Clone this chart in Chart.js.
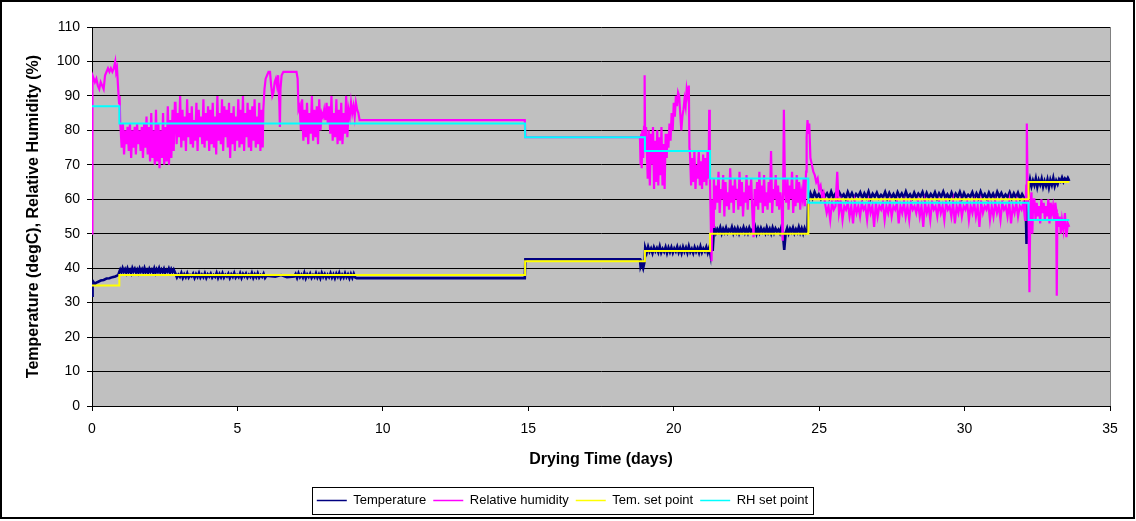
<!DOCTYPE html>
<html>
<head>
<meta charset="utf-8">
<title>Drying conditions</title>
<script src="https://cdn.jsdelivr.net/npm/chart.js@4.4.1/dist/chart.umd.min.js"></script>
<style>
  html, body { margin: 0; padding: 0; background: #fff; }
  #wrap { width: 1136px; height: 521px; position: relative; }
</style>
</head>
<body>
<div id="wrap"><canvas id="dryingChart" width="1136" height="521"></canvas></div>
<script>
// Axis ranges / ticks
const xMin = 0, xMax = 35, xStep = 5;
const yMin = 0, yMax = 110, yStep = 10;

// Set points: day the value starts, value
const setDays = [0, 0.94, 14.89, 19.01, 21.25, 24.63, 32.2, 33.6];
const temSetValues = [35, 38, 42, 45, 50, 60, 65, 65];
const rhSetValues = [87, 82, 78, 74, 66, 59, 54, 54];

// Temperature readings (day, degC) and dense logger bands (values between two days)
const tempStart = [[0, 32], [0.02, 35], [0.05, 36], [0.1, 35.4], [0.15, 35.8], [0.2, 36], [0.3, 36.4], [0.4, 36.6],
  [0.5, 37], [0.6, 37.1], [0.7, 37.4], [0.8, 37.6], [0.9, 38], [0.95, 39.2]];
const tempBand1 = [39.6,38.8,40,39,39.7,38.7,39.9,38.9,39.5,38.6,40,39.1,39.8,38.8,39.6,38.7,39.9,39,39.7,38.8,
  40,38.9,39.5,38.7,39.8,39,39.6,38.8,39.9,38.7,39.7,39,40,38.8,39.6,38.9,39.8,38.7,39.5,39,39.9,38.8,39.7,38.9,39.6,38.8];
const tempBand2 = [38.4,37.3,38.1,37.5,38.6,37.2,38.2,37.4,38.5,37.3,38,37.6,38.4,37.2,38.3,37.5,38.6,37.3,38.1,37.4,
  38.5,37.2,38.2,37.6,38.4,37.3,38,37.5,38.6,37.2,38.3,37.4,38.5,37.3,38.1,37.6,38.4,37.2,38.2,37.5,38.6,37.3,38,37.4,
  38.5,37.2,38.3,37.6,38.4,37.3,38.1,37.5,38.6,37.2,38.2,37.4,38.5,37.3,38,37.5,38.4,37.2];
const tempMid1 = [[6.0, 37.8], [6.3, 37.5], [6.5, 38], [6.7, 37.4], [6.95, 37.6]];
const tempBand3 = [38.3,37.2,38.5,37.4,38.1,37.3,38.6,37.1,38.2,37.5,38.4,37.2,38,37.4,38.5,37.3,38.2,37.1,38.6,37.5,
  38.3,37.2,38.1,37.4,38.5,37.3,38.2,37.1,38.4,37.5,38.6,37.2,38.1,37.3,38.5,37.4,38.2,37.1,38.3,37.2,38.4,37.3];
const tempMid2 = [[9.1, 37.1], [14.88, 37.1], [14.9, 42.6], [18.84, 42.6], [18.86, 40.5], [18.9, 41.5], [18.95, 40], [19.0, 42]];
const tempBand4 = [45.9,44.5,46.2,44.8,45.7,44.4,46,44.9,45.8,44.6,46.3,44.5,45.6,44.8,46.1,44.4,45.9,44.7,46,44.5,
  45.7,44.9,46.2,44.6,45.8,44.4,46.1,44.8,45.9,44.5,46.3,44.7,45.6,44.4,46,44.8,45.8,44.5,46.2,44.6,45.7,44.9,46.1,44.5,45.9];
const tempMid3 = [[21.26, 44], [21.3, 51], [21.34, 45], [21.38, 51]];
const tempBand5 = [51.6,50.2,51.3,50.5,51.8,50.1,51.4,50.4,51.7,50.3,51.2,50.6,51.9,50.2,51.5,50.4,51.6,50.1,51.3,50.5,
  51.8,50.3,51.4,50.2,51.7,50.6,51.2,50.4,51.9,50.1,51.5,50.3,51.6,50.5,51.3,50.2,51.8,50.4,51.4,50.1,51.7,50.3,51.5,50.6,
  51.2,50.2,51.8,50.4,45.3,50.3,51.6,50.1,51.4,50.5,51.7,50.2,51.3,50.4,51.9,50.3,51.5,50.1,51.6,50.4,51.2];
const tempMid4 = [[24.62, 58.5], [24.66, 60.5]];
const tempBand6 = [61.8,60.3,62.1,60.6,61.5,60.2,62,60.8,61.7,60.4,62.2,60.5,61.6,60.3,61.9,60.7,61.4,60.2,62.1,60.6,
  61.8,60.4,61.5,60.8,62,60.3,61.7,60.5,62.2,60.2,61.6,60.7,61.9,60.4,61.3,60.6,62.1,60.3,61.8,60.5,61.5,60.2,62,60.7,
  61.7,60.4,62.2,60.6,61.4,60.3,61.9,60.5,61.6,60.8,62.1,60.2,61.8,60.4,61.5,60.6,62,60.3,61.7,60.7,62.2,60.5,61.4,60.2,
  61.9,60.4,61.6,60.6,62.1,60.3,61.8,60.5,61.3,60.7,62,60.2,61.7,60.4,62.2,60.6,61.5,60.3,61.9,60.5,61.6,60.2,62.1,60.7,
  61.8,60.4,61.4,60.6,62,60.3,61.7,60.5,61.9,60.2,61.5,60.4];
const tempMid5 = [[32.1, 59], [32.13, 47], [32.17, 60], [32.22, 64.5]];
const tempBand7 = [65.8,63.8,65.4,64.1,66,63.6,65.5,64.3,65.9,63.7,65.3,64,65.7,63.5,65.6,64.2,66.1,63.9,65.4,64.4,
  65.8,65.2,66.3,65.1,66,65.4,66.2,65.3];

// Relative humidity readings (day, %) and dense bands
const rhStart = [[0, 50], [0.01, 84], [0.02, 96], [0.06, 95], [0.1, 94], [0.15, 95], [0.2, 93], [0.25, 92], [0.3, 94],
  [0.35, 93], [0.4, 92], [0.45, 96], [0.5, 97], [0.55, 98], [0.6, 97], [0.65, 98], [0.7, 97], [0.75, 98], [0.8, 100],
  [0.83, 97], [0.86, 98], [0.9, 92], [0.93, 88], [0.95, 90], [0.97, 82]];
const rhBand1 = [81,75,82,73,80,76,81,74,82,72,80,75,81,73,82,76,80,74,81,72,82,75,84,73,81,71,85,72,80,70,86,71,82,69,
  80,72,85,70,81,71,87,70,83,72,86,74,88];
const rhBand2 = [88,76,85,78,90,75,86,77,84,74,89,78,85,76,87,75,83,77,88,74,86,78,84,76,89,75,85,77,87,74,86,76,88,75,
  84,73,90,77,85,76,89,74,87,78,86,75,88,72,85,76,87,74,84,77,89,75,86,76,90,74,85,78,88,75,86,74,87,77,89,75,84,76,88,74,86,75];
const rhMid1 = [[5.89, 86], [5.93, 92], [5.97, 95], [6.02, 96], [6.07, 97], [6.12, 97], [6.16, 93], [6.2, 90], [6.24, 91],
  [6.28, 94], [6.32, 95], [6.36, 93], [6.4, 96], [6.44, 88], [6.46, 81], [6.48, 92], [6.52, 96], [6.58, 97], [7.03, 97],
  [7.07, 95], [7.1, 86]];
const rhBand3 = [87,80,89,77,86,78,88,76,85,79,90,77,86,78,87,76,89,80,85,84,86,83,88,82,87,79,90,77,85,78,89,76,86,77,
  88,76,85,79,90,78,86,84,88,85,87,84,88,86,85,83];
const rhMid2 = [[9.23, 83], [14.88, 83], [14.9, 78], [18.84, 78], [18.86, 70], [18.88, 79], [18.9, 69], [18.92, 80],
  [18.95, 72], [18.98, 81], [19.0, 96], [19.02, 74], [19.05, 81]];
const rhBand4 = [81,66,80,64,79,70,81,63,77,65,80,64,78,67,81,64,76,63,79,72];
const rhBand5 = [79,75,82,77,85,80,88,84,90,87,91,90,85,80,84,86,89,87,92,90,93];
const rhMid3 = [[20.54, 75]];
const rhBand6 = [73,64,72,65,74,63,70,66,74,64,71,63,73,65,72,64,74,66];
const rhMid4 = [[21.22, 86], [21.24, 68], [21.27, 55], [21.3, 42], [21.33, 60], [21.36, 52]];
const rhBand7 = [66,57,64,59,68,56,63,60,67,55,65,58,62,57,69,59,64,56,66,60,63,57,68,58,65,55,62,59,67,57,
  64,60,66,56,49,63,58,65,57,68,59,64,56,67,58,62,57,65,59,74,56,63,60,67,58,64,57,62,59,48,
  86,62,59,66,57,64,60,68,56,63,58,67,59,65,57,62,60,66,58,68];
const rhMid5 = [[24.57, 78], [24.6, 83], [24.63, 79], [24.66, 82], [24.7, 72], [24.75, 70], [24.8, 68], [24.85, 67],
  [24.9, 65], [24.95, 66], [25.0, 63], [25.05, 64], [25.1, 61], [25.15, 62]];
const rhBand8 = [59,56,58,54,59,57,58,68,56,59,54,58,57,59,55,58,53,59,56,58,55,59,57,58,54,59,56,58,52,59,55,58,57,59,
  54,58,56,59,55,58,57,59,53,58,56,59,55,58,54,59,57,58,56,59,55,58,52,59,56,58,54,59,57,58,55,59,56,58,54,59,57,58,55,
  59,53,58,56,59,55,58,57,59,54,58,56,59,55,58,52,59,56,58,57,59,54,58,55,59,56,58,54,59,57,58,55,59,53,58,56,59,55,58,57,59,54];
const rhMid6 = [[32.1, 58], [32.12, 64], [32.14, 82], [32.17, 60], [32.2, 56], [32.23, 33], [32.26, 58], [32.3, 62],
  [32.33, 50], [32.36, 60]];
const rhBand9 = [60,54,59,55,58,53,60,56,59,54,58,55,60,53,59,56,58,54,59];
const rhEnd = [[33.15, 57], [33.17, 32], [33.19, 56], [33.23, 52], [33.27, 55], [33.31, 50], [33.35, 54], [33.4, 51],
  [33.45, 56], [33.5, 49], [33.55, 53], [33.6, 52]];

// helpers
function knots(pairs) {
    return pairs.map(p => ({ x: p[0], y: p[1] }));
}
function band(from, to, values) {
    const step = (to - from) / (values.length - 1);
    return values.map((v, i) => ({ x: from + i * step, y: v }));
}

const temperature = [].concat(
    knots(tempStart), band(0.97, 2.85, tempBand1), band(2.87, 5.95, tempBand2), knots(tempMid1),
    band(7.0, 9.05, tempBand3), knots(tempMid2), band(19.02, 21.22, tempBand4), knots(tempMid3),
    band(21.4, 24.6, tempBand5), knots(tempMid4), band(24.7, 32.05, tempBand6), knots(tempMid5),
    band(32.25, 33.6, tempBand7)
);
const humidity = [].concat(
    knots(rhStart), band(0.98, 2.85, rhBand1), band(2.87, 5.87, rhBand2), knots(rhMid1),
    band(7.14, 9.2, rhBand3), knots(rhMid2), band(19.07, 19.76, rhBand4), band(19.78, 20.52, rhBand5),
    knots(rhMid3), band(20.56, 21.2, rhBand6), knots(rhMid4), band(21.38, 24.55, rhBand7), knots(rhMid5),
    band(25.2, 32.08, rhBand8), knots(rhMid6), band(32.4, 33.12, rhBand9), knots(rhEnd)
);
const temSet = setDays.map((d, i) => ({ x: d, y: temSetValues[i] }));
const rhSet = setDays.map((d, i) => ({ x: d, y: rhSetValues[i] }));

const FONT = "'Liberation Sans', Arial, sans-serif";

// grey plot area, outer frame, legend frame
const framePlugin = {
    id: 'frames',
    beforeDraw(chart) {
        const { ctx, chartArea: a } = chart;
        ctx.save();
        ctx.fillStyle = '#ffffff';
        ctx.fillRect(0, 0, chart.width, chart.height);
        ctx.fillStyle = '#c0c0c0';
        ctx.fillRect(a.left, a.top, a.right - a.left, a.bottom - a.top);
        ctx.restore();
    },
    afterDraw(chart) {
        const { ctx, chartArea: a } = chart;
        ctx.save();
        ctx.strokeStyle = '#808080';
        ctx.lineWidth = 1;
        ctx.beginPath();
        ctx.moveTo(Math.round(a.right) + 0.5, a.top);
        ctx.lineTo(Math.round(a.right) + 0.5, a.bottom);
        ctx.stroke();

        // outer border of the figure
        ctx.strokeStyle = '#000';
        ctx.lineWidth = 2;
        ctx.strokeRect(1, 1, chart.width - 3, chart.height - 4);

        // legend box
        const boxes = chart.legend.legendHitBoxes;
        if (boxes && boxes.length) {
            const first = boxes[0], last = boxes[boxes.length - 1];
            const left = Math.round(first.left - 5) + 0.5;
            const right = Math.round(last.left + last.width + 5) + 0.5;
            const top = Math.round(first.top - 7) + 0.5;
            const bottom = Math.round(first.top + first.height + 7) + 0.5;
            ctx.lineWidth = 1;
            ctx.strokeStyle = '#000';
            ctx.strokeRect(left, top, right - left, bottom - top);
        }
        ctx.restore();
    }
};

// thin legend lines regardless of dataset line width
function legendLabels(chart) {
    const items = Chart.defaults.plugins.legend.labels.generateLabels(chart);
    items.forEach(item => { item.lineWidth = 1.5; });
    return items;
}

const ctx = document.getElementById('dryingChart').getContext('2d');
new Chart(ctx, {
    type: 'line',
    data: {
        datasets: [
            { label: 'Temperature', data: temperature, borderColor: '#000080', backgroundColor: '#000080',
              borderWidth: 2.6, order: 4 },
            { label: 'Relative humidity', data: humidity, borderColor: '#ff00ff', backgroundColor: '#ff00ff',
              borderWidth: 2.2, order: 3 },
            { label: 'Tem. set point', data: temSet, borderColor: '#ffff00', backgroundColor: '#ffff00',
              borderWidth: 2, stepped: true, order: 2 },
            { label: 'RH set point', data: rhSet, borderColor: '#00ffff', backgroundColor: '#00ffff',
              borderWidth: 2, stepped: true, order: 1 }
        ]
    },
    options: {
        responsive: false,
        animation: false,
        parsing: false,
        normalized: true,
        elements: { point: { radius: 0, hoverRadius: 0 }, line: { tension: 0 } },
        layout: { padding: { left: 15, right: 26, top: 27, bottom: 4 } },
        scales: {
            x: {
                type: 'linear',
                min: xMin,
                max: xMax,
                ticks: { stepSize: xStep, color: '#000', padding: 10, font: { family: FONT, size: 14 } },
                grid: { drawOnChartArea: false, color: '#000', tickLength: 5 },
                border: { color: '#000' },
                title: {
                    display: true,
                    text: 'Drying Time (days)',
                    color: '#000',
                    font: { family: FONT, size: 16, weight: 'bold' },
                    padding: { top: 2, bottom: 18 }
                }
            },
            y: {
                min: yMin,
                max: yMax,
                ticks: { stepSize: yStep, color: '#000', padding: 7, font: { family: FONT, size: 14 } },
                grid: { color: '#000', tickLength: 5 },
                border: { color: '#000' },
                title: {
                    display: true,
                    text: 'Temperature (degC), Relative Humidity (%)',
                    color: '#000',
                    font: { family: FONT, size: 16, weight: 'bold' },
                    padding: { top: 9, bottom: 10 }
                },
                afterFit(scale) { scale.width = 77; }
            }
        },
        plugins: {
            legend: {
                position: 'bottom',
                labels: {
                    usePointStyle: true,
                    pointStyle: 'line',
                    pointStyleWidth: 30,
                    padding: 7,
                    color: '#000',
                    font: { family: FONT, size: 13 },
                    generateLabels: legendLabels,
                    sort: (a, b) => a.datasetIndex - b.datasetIndex
                }
            },
            tooltip: { enabled: false }
        }
    },
    plugins: [framePlugin]
});
</script>
</body>
</html>
